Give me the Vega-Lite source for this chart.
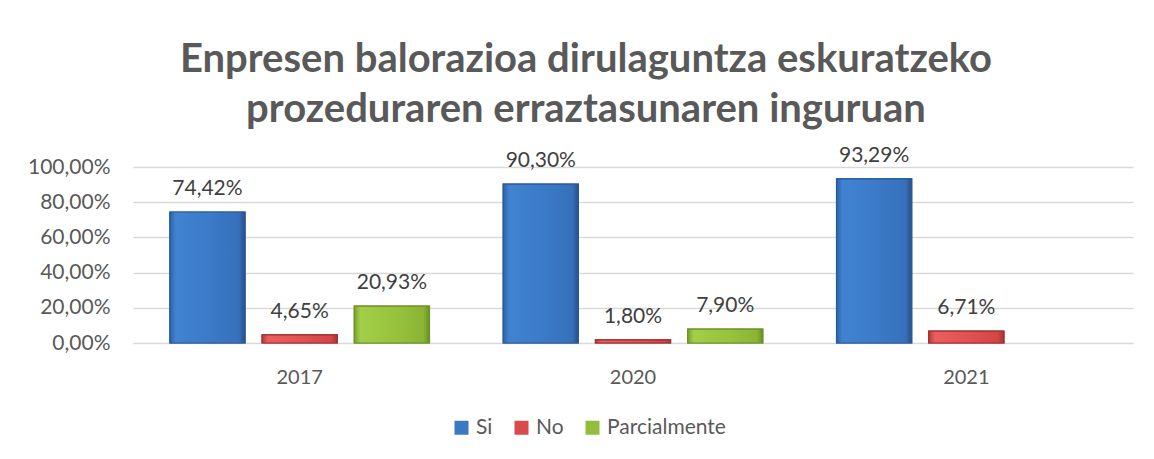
{
  "$schema": "https://vega.github.io/schema/vega-lite/v6.json",
  "width": 1000,
  "height": 176,
  "autosize": {"type": "none"},
  "padding": {"left": 133, "top": 167, "right": 21, "bottom": 116},
  "background": "#ffffff",
  "config": {
    "locale": {"number": {"decimal": ",", "thousands": ".", "grouping": [3], "currency": ["", " €"]}},
    "view": {"stroke": null},
    "font": "Lato"
  },
  "title": {
    "text": ["Enpresen balorazioa dirulaguntza eskuratzeko", "prozeduraren erraztasunaren inguruan"],
    "fontSize": 40,
    "fontWeight": "bold",
    "color": "#595959",
    "font": "Lato",
    "lineHeight": 50,
    "dx": -47,
    "offset": 15,
    "anchor": "middle"
  },
  "data": {
    "values": [
      {"urtea": "2017", "erantzuna": "Si", "balioa": 0.7442},
      {"urtea": "2017", "erantzuna": "No", "balioa": 0.0465},
      {"urtea": "2017", "erantzuna": "Parcialmente", "balioa": 0.2093},
      {"urtea": "2020", "erantzuna": "Si", "balioa": 0.903},
      {"urtea": "2020", "erantzuna": "No", "balioa": 0.018},
      {"urtea": "2020", "erantzuna": "Parcialmente", "balioa": 0.079},
      {"urtea": "2021", "erantzuna": "Si", "balioa": 0.9329},
      {"urtea": "2021", "erantzuna": "No", "balioa": 0.0671}
    ]
  },
  "encoding": {
    "x": {
      "field": "urtea", "type": "nominal",
      "scale": {"paddingInner": 0, "paddingOuter": 0},
      "axis": {"title": null, "labelAngle": 0, "ticks": false, "domainColor": "#d9d9d9", "labelPadding": 24, "labelFontSize": 20, "labelColor": "#595959", "labelFont": "Lato", "labelFontWeight": "normal"}
    },
    "xOffset": {
      "field": "erantzuna", "type": "nominal",
      "scale": {"domain": ["Si", "No", "Parcialmente"], "paddingInner": 0.185, "paddingOuter": 0.4}
    },
    "y": {
      "field": "balioa", "type": "quantitative",
      "scale": {"domain": [0, 1]},
      "axis": {"title": null, "values": [0, 0.2, 0.4, 0.6, 0.8, 1], "format": ".2%", "labelFontSize": 21, "labelColor": "#595959", "labelFont": "Lato", "gridColor": "#d9d9d9", "gridWidth": 1.5, "domain": false, "ticks": false, "labelPadding": 23}
    }
  },
  "layer": [
    {
      "mark": {"type": "bar", "strokeWidth": 1.2},
      "encoding": {
        "color": {
          "field": "erantzuna", "type": "nominal",
          "scale": {"domain": ["Si", "No", "Parcialmente"], "range": ["#3a78c4", "#d84a4b", "#93bd3c"]},
          "legend": {
            "title": null, "orient": "none", "direction": "horizontal",
            "legendX": 318, "legendY": 250,
            "symbolType": "square", "symbolSize": 196, "symbolStrokeWidth": 0,
            "labelFontSize": 21, "labelColor": "#595959", "labelFont": "Lato",
            "columnPadding": 18, "labelOffset": 4
          }
        },
        "stroke": {
          "field": "erantzuna", "type": "nominal",
          "scale": {"domain": ["Si", "No", "Parcialmente"], "range": ["#2a5a96", "#9b3330", "#6f8f2b"]},
          "legend": null
        }
      }
    },
    {
      "transform": [{"filter": "datum.erantzuna === 'Si'"}],
      "mark": {
        "type": "bar", "stroke": "#2a5a96", "strokeWidth": 1.2,
        "color": {"gradient": "linear", "x1": 0, "y1": 0, "x2": 1, "y2": 0, "stops": [
          {"offset": 0, "color": "#2e62a8"}, {"offset": 0.08, "color": "#4183d2"}, {"offset": 0.5, "color": "#3b7bc8"}, {"offset": 0.92, "color": "#3670bb"}, {"offset": 1, "color": "#274f88"}]}
      }
    },
    {
      "transform": [{"filter": "datum.erantzuna === 'No'"}],
      "mark": {
        "type": "bar", "stroke": "#9b3330", "strokeWidth": 1.2,
        "color": {"gradient": "linear", "x1": 0, "y1": 0, "x2": 1, "y2": 0, "stops": [
          {"offset": 0, "color": "#b23a3a"}, {"offset": 0.08, "color": "#ec5e5e"}, {"offset": 0.5, "color": "#e25253"}, {"offset": 0.92, "color": "#d34546"}, {"offset": 1, "color": "#a53434"}]}
      }
    },
    {
      "transform": [{"filter": "datum.erantzuna === 'Parcialmente'"}],
      "mark": {
        "type": "bar", "stroke": "#6f8f2b", "strokeWidth": 1.2,
        "color": {"gradient": "linear", "x1": 0, "y1": 0, "x2": 1, "y2": 0, "stops": [
          {"offset": 0, "color": "#78a02a"}, {"offset": 0.08, "color": "#a3cf48"}, {"offset": 0.5, "color": "#98c43d"}, {"offset": 0.92, "color": "#8ab535"}, {"offset": 1, "color": "#6a8f22"}]}
      }
    },
    {
      "mark": {"type": "text", "baseline": "alphabetic", "dy": -17, "fontSize": 21, "color": "#404040", "font": "Lato"},
      "encoding": {
        "text": {"field": "balioa", "type": "quantitative", "format": ".2%"}
      }
    }
  ]
}
